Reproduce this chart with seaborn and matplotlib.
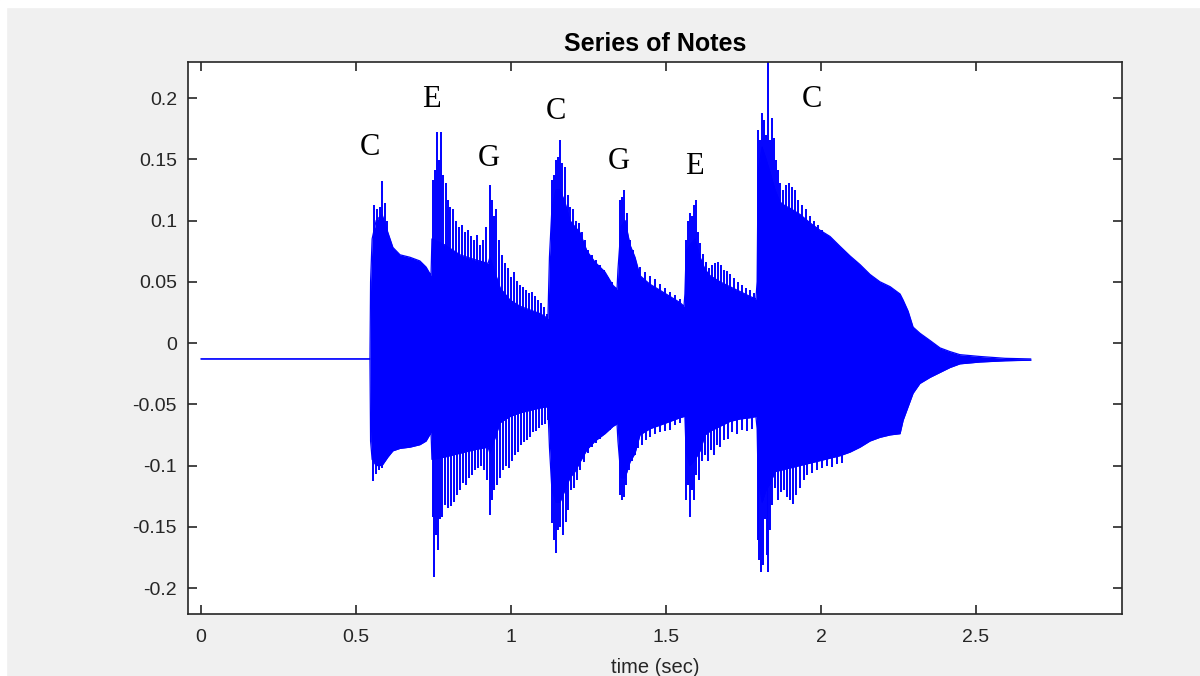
import numpy as np
import pandas as pd
import matplotlib
matplotlib.use("Agg")
import matplotlib.pyplot as plt
from matplotlib.patches import Rectangle
import seaborn as sns

# Body envelope of the recording: time (s), upper edge, lower edge
env_t = [0.000, 0.545, 0.547, 0.552, 0.565, 0.584, 0.603, 0.619, 0.642, 0.674, 0.706, 0.726, 0.742,
         0.745, 0.787, 0.835, 0.884, 0.926,
         0.932, 0.965, 0.997, 1.029, 1.061, 1.094, 1.119,
         1.124, 1.132, 1.145, 1.158, 1.174, 1.190, 1.206, 1.223, 1.245, 1.271, 1.287, 1.303, 1.329, 1.342,
         1.345, 1.355, 1.368, 1.384, 1.400, 1.416, 1.448, 1.481, 1.513, 1.545, 1.558,
         1.561, 1.565, 1.577, 1.594, 1.610, 1.626, 1.642, 1.674, 1.706, 1.739, 1.771, 1.790,
         1.794, 1.797, 1.810, 1.823, 1.835, 1.852, 1.868, 1.884, 1.900, 1.932, 1.965, 1.997, 2.029,
         2.061, 2.094, 2.126, 2.158, 2.190, 2.223, 2.255, 2.265, 2.281, 2.297, 2.319, 2.352, 2.384,
         2.416, 2.448, 2.513, 2.594, 2.677]
env_hi = [-0.013, -0.013, 0.050, 0.085, 0.100, 0.105, 0.090, 0.078, 0.072, 0.070, 0.067, 0.062, 0.055,
          0.085, 0.080, 0.072, 0.068, 0.065,
          0.070, 0.045, 0.035, 0.030, 0.027, 0.024, 0.020,
          0.070, 0.110, 0.125, 0.125, 0.115, 0.100, 0.095, 0.090, 0.075, 0.066, 0.062, 0.058, 0.047, 0.044,
          0.060, 0.095, 0.100, 0.080, 0.070, 0.055, 0.048, 0.043, 0.038, 0.033, 0.030,
          0.040, 0.075, 0.080, 0.085, 0.070, 0.060, 0.055, 0.050, 0.046, 0.042, 0.038, 0.036,
          0.050, 0.140, 0.160, 0.150, 0.140, 0.125, 0.115, 0.112, 0.110, 0.105, 0.098, 0.092, 0.087,
          0.079, 0.071, 0.064, 0.056, 0.050, 0.046, 0.040, 0.035, 0.026, 0.013, 0.008, 0.002, -0.004,
          -0.007, -0.0095, -0.011, -0.0125, -0.013]
env_lo = [-0.013, -0.013, -0.080, -0.095, -0.100, -0.100, -0.093, -0.088, -0.086, -0.085, -0.083, -0.080, -0.073,
          -0.095, -0.093, -0.090, -0.087, -0.085,
          -0.090, -0.065, -0.060, -0.057, -0.055, -0.053, -0.052,
          -0.085, -0.120, -0.130, -0.130, -0.120, -0.110, -0.105, -0.097, -0.087, -0.080, -0.077, -0.074, -0.068, -0.066,
          -0.080, -0.110, -0.110, -0.097, -0.090, -0.075, -0.070, -0.067, -0.064, -0.061, -0.060,
          -0.060, -0.090, -0.100, -0.095, -0.088, -0.075, -0.072, -0.068, -0.064, -0.062, -0.061, -0.060,
          -0.070, -0.110, -0.130, -0.120, -0.115, -0.105, -0.104, -0.103, -0.102, -0.100, -0.098, -0.096, -0.094,
          -0.092, -0.089, -0.085, -0.080, -0.077, -0.075, -0.074, -0.063, -0.052, -0.041, -0.033, -0.028, -0.024,
          -0.020, -0.017, -0.0155, -0.0145, -0.014]

# Individual peaks above the body: time (s), amplitude
peak_hi_t = [0.558, 0.568, 0.577, 0.584, 0.594, 0.600,
             0.7484, 0.7548, 0.7613, 0.7677, 0.7742, 0.7806, 0.7903, 0.7968, 0.8032, 0.8129, 0.8226,
             0.8323, 0.8419, 0.8516, 0.8613, 0.8710, 0.8806, 0.8903, 0.9000, 0.9097, 0.9194,
             0.9323, 0.9387, 0.9452, 0.9516, 0.9613, 0.9710, 0.9806, 0.9903, 1.0000, 1.0097, 1.0194,
             1.0290, 1.0387, 1.0484, 1.0581, 1.0677, 1.0774, 1.0871, 1.0968, 1.1065, 1.1161,
             1.1323, 1.1387, 1.1452, 1.1516, 1.1581, 1.1645, 1.1742, 1.1839, 1.1903, 1.2000, 1.2097,
             1.2194, 1.2290, 1.2387, 1.2484, 1.2613, 1.2742, 1.2871, 1.3000, 1.3129, 1.3258,
             1.3516, 1.3581, 1.3645, 1.3742, 1.3839, 1.3935, 1.4032, 1.4161, 1.4323, 1.4484, 1.4645,
             1.4806, 1.4968, 1.5129, 1.5290, 1.5452,
             1.5645, 1.5710, 1.5774, 1.5839, 1.5903, 1.5968, 1.6032, 1.6097, 1.6194, 1.6290, 1.6387,
             1.6484, 1.6581, 1.6677, 1.6774, 1.6871, 1.6968, 1.7065, 1.7194, 1.7323, 1.7452, 1.7581,
             1.7710, 1.7839,
             1.7968, 1.8032, 1.8097, 1.8161, 1.8226, 1.8290, 1.8355, 1.8419, 1.8484, 1.8548, 1.8613,
             1.8677, 1.8774, 1.8871, 1.8968, 1.9065, 1.9161, 1.9258, 1.9387, 1.9516, 1.9645, 1.9774,
             1.9903, 2.0032, 2.0161, 2.0290, 2.0452]
peak_hi_v = [0.113, 0.109, 0.111, 0.132, 0.114, 0.100,
             0.133, 0.141, 0.172, 0.149, 0.172, 0.137, 0.131, 0.117, 0.111, 0.109, 0.100,
             0.095, 0.096, 0.091, 0.092, 0.087, 0.084, 0.088, 0.080, 0.084, 0.095,
             0.129, 0.117, 0.104, 0.109, 0.084, 0.072, 0.065, 0.061, 0.054, 0.058, 0.051,
             0.047, 0.046, 0.043, 0.041, 0.042, 0.038, 0.035, 0.033, 0.029, 0.024,
             0.133, 0.137, 0.149, 0.152, 0.166, 0.147, 0.144, 0.121, 0.111, 0.109, 0.100,
             0.098, 0.091, 0.084, 0.076, 0.072, 0.068, 0.064, 0.060, 0.054, 0.050,
             0.117, 0.119, 0.125, 0.106, 0.084, 0.076, 0.065, 0.062, 0.058, 0.055, 0.052,
             0.048, 0.045, 0.042, 0.039, 0.036,
             0.084, 0.100, 0.106, 0.104, 0.113, 0.117, 0.091, 0.082, 0.073, 0.066, 0.061,
             0.064, 0.065, 0.066, 0.064, 0.060, 0.059, 0.056, 0.053, 0.050, 0.047, 0.045,
             0.043, 0.041,
             0.174, 0.166, 0.188, 0.182, 0.170, 0.229, 0.166, 0.184, 0.167, 0.149, 0.141,
             0.131, 0.125, 0.129, 0.131, 0.127, 0.125, 0.117, 0.113, 0.109, 0.104, 0.100,
             0.096, 0.092, 0.088, 0.086, 0.082]

# Individual troughs below the body: time (s), amplitude
peak_lo_t = [0.5548, 0.5645, 0.5742, 0.5839,
             0.7484, 0.7516, 0.7581, 0.7645, 0.7710, 0.7774, 0.7871, 0.7968, 0.8065, 0.8161, 0.8258,
             0.8355, 0.8452, 0.8548, 0.8645, 0.8742, 0.8839, 0.8935, 0.9032, 0.9129, 0.9226,
             0.9323, 0.9387, 0.9452, 0.9548, 0.9645, 0.9742, 0.9839, 0.9935, 1.0032, 1.0129, 1.0226,
             1.0323, 1.0419, 1.0516, 1.0613, 1.0710, 1.0806, 1.0903, 1.1000, 1.1097, 1.1194,
             1.1323, 1.1387, 1.1452, 1.1516, 1.1581, 1.1677, 1.1774, 1.1839, 1.1935, 1.2032, 1.2129,
             1.2226, 1.2355, 1.2484, 1.2613, 1.2742, 1.2871, 1.3032, 1.3194,
             1.3516, 1.3581, 1.3645, 1.3710, 1.3806, 1.3903, 1.4000, 1.4097, 1.4226, 1.4355, 1.4484,
             1.4645, 1.4806, 1.4968, 1.5129, 1.5290, 1.5452,
             1.5645, 1.5710, 1.5774, 1.5839, 1.5903, 1.5968, 1.6065, 1.6161, 1.6258, 1.6355, 1.6452,
             1.6548, 1.6645, 1.6742, 1.6871, 1.6999, 1.7129, 1.7290, 1.7452, 1.7613, 1.7774,
             1.7968, 1.8000, 1.8065, 1.8129, 1.8194, 1.8258, 1.8290, 1.8355, 1.8419, 1.8516, 1.8613,
             1.8710, 1.8806, 1.8903, 1.9000, 1.9097, 1.9194, 1.9323, 1.9452, 1.9548, 1.9710, 1.9871,
             2.0032, 2.0194, 2.0355, 2.0516, 2.0677]
peak_lo_v = [-0.113, -0.107, -0.104, -0.102,
             -0.142, -0.191, -0.157, -0.169, -0.144, -0.142, -0.132, -0.135, -0.133, -0.130, -0.124,
             -0.120, -0.114, -0.116, -0.110, -0.108, -0.104, -0.102, -0.100, -0.104, -0.112,
             -0.140, -0.128, -0.120, -0.116, -0.110, -0.104, -0.100, -0.102, -0.096, -0.091, -0.089,
             -0.083, -0.081, -0.079, -0.077, -0.073, -0.072, -0.069, -0.067, -0.066, -0.063,
             -0.147, -0.161, -0.171, -0.153, -0.150, -0.157, -0.146, -0.136, -0.120, -0.118, -0.112,
             -0.104, -0.097, -0.090, -0.085, -0.082, -0.078, -0.073, -0.071,
             -0.124, -0.128, -0.126, -0.116, -0.104, -0.096, -0.091, -0.086, -0.083, -0.079, -0.077,
             -0.074, -0.073, -0.072, -0.071, -0.067, -0.065,
             -0.128, -0.116, -0.142, -0.120, -0.128, -0.108, -0.112, -0.096, -0.091, -0.096, -0.087,
             -0.091, -0.083, -0.085, -0.079, -0.078, -0.073, -0.074, -0.071, -0.072, -0.070,
             -0.161, -0.177, -0.187, -0.181, -0.144, -0.173, -0.187, -0.153, -0.132, -0.118, -0.128,
             -0.122, -0.120, -0.126, -0.128, -0.131, -0.124, -0.118, -0.112, -0.108, -0.106, -0.104,
             -0.102, -0.100, -0.101, -0.099, -0.098]

# Note names and where they sit above each attack
note_names = ["C", "E", "G", "C", "G", "E", "C"]
note_t = [0.545, 0.742, 0.929, 1.145, 1.348, 1.590, 1.971]
note_y = [0.160, 0.199, 0.151, 0.189, 0.148, 0.144, 0.199]

x_ticks = [0, 0.5, 1, 1.5, 2, 2.5]
y_ticks = [-0.2, -0.15, -0.1, -0.05, 0, 0.05, 0.1, 0.15, 0.2]
baseline = -0.013

sns.set_style("ticks")
plt.rcParams["font.family"] = ["Liberation Sans", "DejaVu Sans"]

fig = plt.figure(figsize=(12, 6.76), dpi=100, facecolor="#f0f0f0")
ax = fig.add_axes([188 / 1200, 1 - 614 / 676, (1122 - 188) / 1200, (614 - 62) / 676])
ax.set_facecolor("white")

blue = (0, 0, 1)
env = pd.DataFrame({"t": env_t, "hi": env_hi, "lo": env_lo})

ax.fill_between(env["t"], env["lo"], env["hi"], color=blue, linewidth=0)
sns.lineplot(data=env, x="t", y="hi", ax=ax, color=blue, linewidth=0.9,
             estimator=None, sort=False)
sns.lineplot(data=env, x="t", y="lo", ax=ax, color=blue, linewidth=0.9,
             estimator=None, sort=False)
ax.vlines(peak_hi_t, baseline, peak_hi_v, color=blue, linewidth=1.4)
ax.vlines(peak_lo_t, baseline, peak_lo_v, color=blue, linewidth=1.4)

for name, t, y in zip(note_names, note_t, note_y):
    ax.text(t, y, name, ha="center", va="center", fontsize=22,
            family=["Liberation Serif", "DejaVu Serif"], color="black")

ax.set_xlim(-0.042, 2.971)
ax.set_ylim(-0.2212, 0.2294)
ax.set_xticks(x_ticks)
ax.set_xticklabels(["0", "0.5", "1", "1.5", "2", "2.5"])
ax.set_yticks(y_ticks)
ax.set_yticklabels(["-0.2", "-0.15", "-0.1", "-0.05", "0", "0.05", "0.1", "0.15", "0.2"])

for side in ["left", "right", "top", "bottom"]:
    ax.spines[side].set_visible(True)
    ax.spines[side].set_color("#262626")
    ax.spines[side].set_linewidth(1.2)
ax.tick_params(axis="both", direction="in", length=6.5, width=1.2, color="#262626",
               labelcolor="#262626", labelsize=14, top=True, right=True)
ax.tick_params(axis="y", pad=8)
ax.tick_params(axis="x", pad=11)

ax.set_title("Series of Notes", fontsize=18, fontweight="bold", color="black", pad=8)
ax.set_xlabel("time (sec)", fontsize=14.5, color="#262626")
ax.xaxis.set_label_coords(0.5, -0.079)
ax.set_ylabel("")

# thin white margin at the top and left edges
fig.add_artist(Rectangle((0, 1 - 7 / 676), 1, 7 / 676, transform=fig.transFigure,
                         color="white", zorder=-1))
fig.add_artist(Rectangle((0, 0), 6 / 1200, 1, transform=fig.transFigure,
                         color="white", zorder=-1))

fig.savefig("out.png", dpi=100, facecolor=fig.get_facecolor())
